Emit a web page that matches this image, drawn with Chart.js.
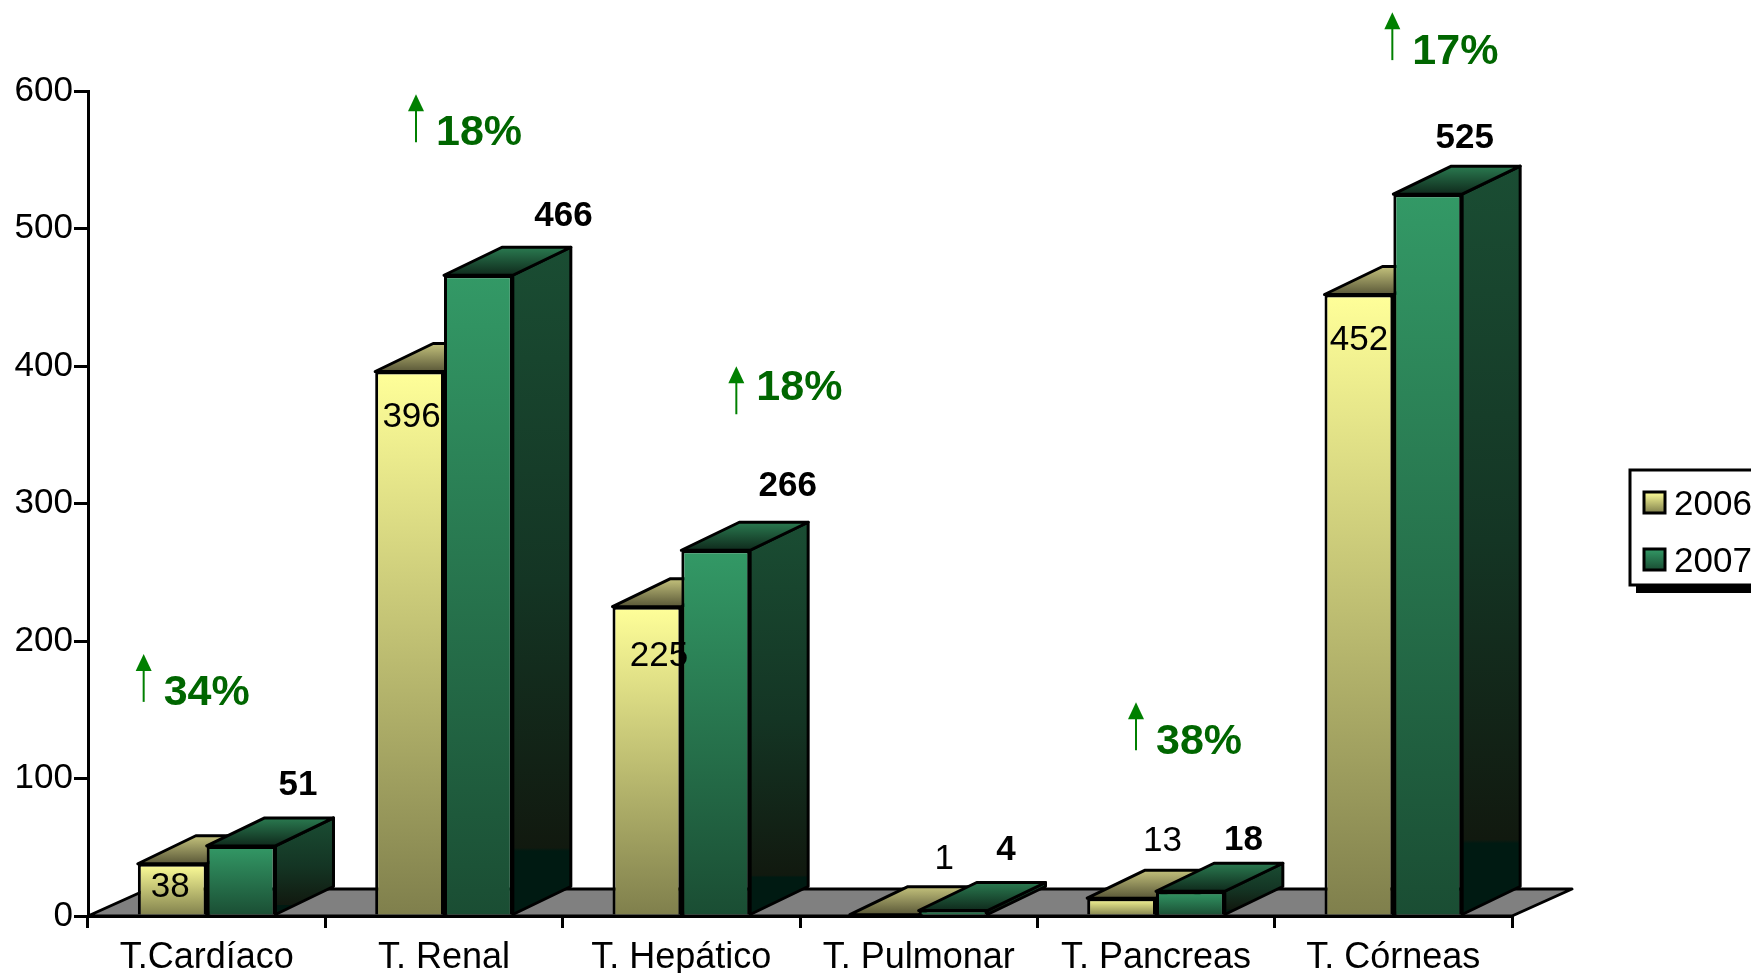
<!DOCTYPE html>
<html>
<head>
<meta charset="utf-8">
<title>Transplantes 2006 - 2007</title>
<script src="https://cdn.jsdelivr.net/npm/chart.js@4/dist/chart.umd.min.js"></script>
<style>
  html, body { margin: 0; padding: 0; background: #fff; overflow: hidden; }
  canvas { display: block; }
</style>
</head>
<body>
<canvas id="chart" width="1751" height="973"></canvas>
<script>
const categories = ['T.Cardíaco', 'T. Renal', 'T. Hepático', 'T. Pulmonar', 'T. Pancreas', 'T. Córneas'];
const seriesNames = ['2006', '2007'];
const values2006 = [38, 396, 225, 1, 13, 452];
const values2007 = [51, 466, 266, 4, 18, 525];
const growthLabels = ['34%', '18%', '18%', null, '38%', '17%'];

// hand placed text, offset in px from the top centre of its bar
const nudge2006 = [[-2, 24], [2, 46], [12, 50], [60, -55], [41, -57], [0, 46]];
const nudge2007 = [[57, -61], [85, -59], [72, -64], [53, -60], [53, -51], [37, -56]];
// growth arrow: dx from category centre, gap above the 2007 bar, text shift
const growthNudge = [[-63, -144, -9], [-28, -133, -9], [55, -136, -26], null, [-20, -141, -8], [-1, -134, -8]];

const DEPTH_X = 58, DEPTH_Y = 28;
const FONT = '"Liberation Sans", Arial, sans-serif';

// front, side and top colours for each series
const palette = [
  { front: ['#FFFF99', '#7F7F4C'], side: ['#7F7F4C', '#1A1A10'], top: ['#C4C27C', '#5A5838'] },
  { front: ['#339966', '#1A4D33'], side: ['#1A4D33', '#143524', '#11190F', '#001A12'], top: ['#2A7A50', '#0F2A1C'] }
];

function vgrad(ctx, y0, y1, colors) {
  const g = ctx.createLinearGradient(0, y0, 0, y1 === y0 ? y0 + 1 : y1);
  if (colors.length === 4) {
    // side of the 2007 bars has a hard step near the bottom
    g.addColorStop(0, colors[0]);
    g.addColorStop(0.5, colors[1]);
    g.addColorStop(0.9, colors[2]);
    g.addColorStop(0.905, colors[3]);
    g.addColorStop(1, colors[3]);
    return g;
  }
  g.addColorStop(0, colors[0]);
  g.addColorStop(1, colors[1]);
  return g;
}

function frontFill(i) {
  return function(c) {
    if (c.raw === undefined) return palette[i].front[0];
    const y = c.chart.scales.y;
    const top = y.getPixelForValue(c.raw), base = y.getPixelForValue(0);
    // scales have no size yet on the first pass
    if (!isFinite(top) || !isFinite(base)) return palette[i].front[0];
    return vgrad(c.chart.ctx, top, base, palette[i].front);
  };
}

function poly(ctx, pts, fill) {
  ctx.beginPath();
  pts.forEach((p, i) => i ? ctx.lineTo(p[0], p[1]) : ctx.moveTo(p[0], p[1]));
  ctx.closePath();
  ctx.fillStyle = fill;
  ctx.fill();
  ctx.stroke();
}

function drawFaces(ctx, bar, colors) {
  const l = bar.x - bar.width / 2, r = bar.x + bar.width / 2;
  const t = bar.y, b = bar.base;
  poly(ctx, [[r, t], [r + DEPTH_X, t - DEPTH_Y], [r + DEPTH_X, b - DEPTH_Y], [r, b]],
    vgrad(ctx, t - DEPTH_Y, b, colors.side));
  poly(ctx, [[l, t], [r, t], [r + DEPTH_X, t - DEPTH_Y], [l + DEPTH_X, t - DEPTH_Y]],
    vgrad(ctx, t - DEPTH_Y, t, colors.top));
}

const bars3d = {
  id: 'bars3d',
  beforeDatasetsDraw(chart) {
    const ctx = chart.ctx, x = chart.scales.x, y0 = chart.scales.y.getPixelForValue(0);
    ctx.save();
    ctx.strokeStyle = '#000';
    ctx.lineWidth = 3;
    ctx.lineJoin = 'round';
    // floor of the 3d box
    poly(ctx, [[x.left, y0], [x.right, y0], [x.right + 60, y0 - 27], [x.left + 60, y0 - 27]], '#808080');
    categories.forEach((_, i) => {
      [0, 1].forEach(d => {
        const bar = chart.getDatasetMeta(d).data[i];
        drawFaces(ctx, bar, palette[d]);
        bar.draw(ctx);
      });
    });
    ctx.restore();
  },
  // bars already painted above, in the right order
  beforeDatasetDraw() { return false; },
  afterDatasetsDraw(chart) {
    const ctx = chart.ctx;
    const x = chart.scales.x;
    const m0 = chart.getDatasetMeta(0).data, m1 = chart.getDatasetMeta(1).data;
    ctx.save();
    ctx.textBaseline = 'middle';
    ctx.textAlign = 'center';
    ctx.fillStyle = '#000';

    ctx.font = '35px ' + FONT;
    values2006.forEach((v, i) => {
      ctx.fillText(String(v), m0[i].x + nudge2006[i][0], m0[i].y + nudge2006[i][1]);
    });
    ctx.font = 'bold 35px ' + FONT;
    values2007.forEach((v, i) => {
      ctx.fillText(String(v), m1[i].x + nudge2007[i][0], m1[i].y + nudge2007[i][1]);
    });

    // growth arrows
    ctx.textAlign = 'left';
    ctx.font = 'bold 43px ' + FONT;
    growthLabels.forEach((label, i) => {
      if (!label) return;
      const n = growthNudge[i];
      const ax = x.getPixelForValue(i) + n[0];
      const bottom = m1[i].y + n[1];
      const top = bottom - 48;
      ctx.strokeStyle = '#008000';
      ctx.fillStyle = '#008000';
      ctx.lineWidth = 2;
      ctx.beginPath();
      ctx.moveTo(ax, bottom);
      ctx.lineTo(ax, top + 10);
      ctx.stroke();
      ctx.beginPath();
      ctx.moveTo(ax, top);
      ctx.lineTo(ax + 8, top + 17);
      ctx.lineTo(ax - 8, top + 17);
      ctx.closePath();
      ctx.fill();
      ctx.fillStyle = '#006600';
      ctx.fillText(label, ax + 20, bottom + n[2]);
    });

    // legend, runs off the right edge like the original
    const lx = 1630, ly = 470, lw = 140, lh = 115;
    ctx.fillStyle = '#000';
    ctx.fillRect(lx + 6, ly + 6, lw, lh + 2);
    ctx.fillStyle = '#fff';
    ctx.strokeStyle = '#000';
    ctx.lineWidth = 3;
    ctx.fillRect(lx, ly, lw, lh);
    ctx.strokeRect(lx, ly, lw, lh);
    ctx.font = '35px ' + FONT;
    seriesNames.forEach((name, d) => {
      const sy = ly + 22 + d * 57;
      ctx.fillStyle = vgrad(ctx, sy, sy + 21, palette[d].front);
      ctx.fillRect(lx + 14, sy, 21, 21);
      ctx.strokeRect(lx + 14, sy, 21, 21);
      ctx.fillStyle = '#000';
      ctx.fillText(name, lx + 44, sy + 13);
    });
    ctx.restore();
  }
};

new Chart(document.getElementById('chart'), {
  type: 'bar',
  data: {
    labels: categories,
    datasets: [
      { label: seriesNames[0], data: values2006, backgroundColor: frontFill(0) },
      { label: seriesNames[1], data: values2007, backgroundColor: frontFill(1) }
    ]
  },
  options: {
    responsive: false,
    animation: false,
    layout: { padding: { top: 91, right: 239, left: 0, bottom: 0 } },
    datasets: {
      bar: { barPercentage: 1, categoryPercentage: 0.58, borderColor: '#000', borderWidth: 3 }
    },
    plugins: { legend: { display: false }, tooltip: { enabled: false } },
    scales: {
      x: {
        afterFit(scale) { scale.height = 57; },
        border: { color: '#000', width: 3 },
        grid: { drawOnChartArea: false, color: '#000', lineWidth: 3, tickLength: 12 },
        ticks: { color: '#000', font: { family: FONT, size: 36 }, autoSkip: false, maxRotation: 0, padding: 8 }
      },
      y: {
        min: 0,
        max: 600,
        afterFit(scale) { scale.width = 88; },
        border: { color: '#000', width: 3 },
        grid: { drawOnChartArea: false, color: '#000', lineWidth: 3, tickLength: 14 },
        ticks: { color: '#000', font: { family: FONT, size: 35 }, stepSize: 100, padding: 1 }
      }
    }
  },
  plugins: [bars3d]
});
</script>
</body>
</html>
